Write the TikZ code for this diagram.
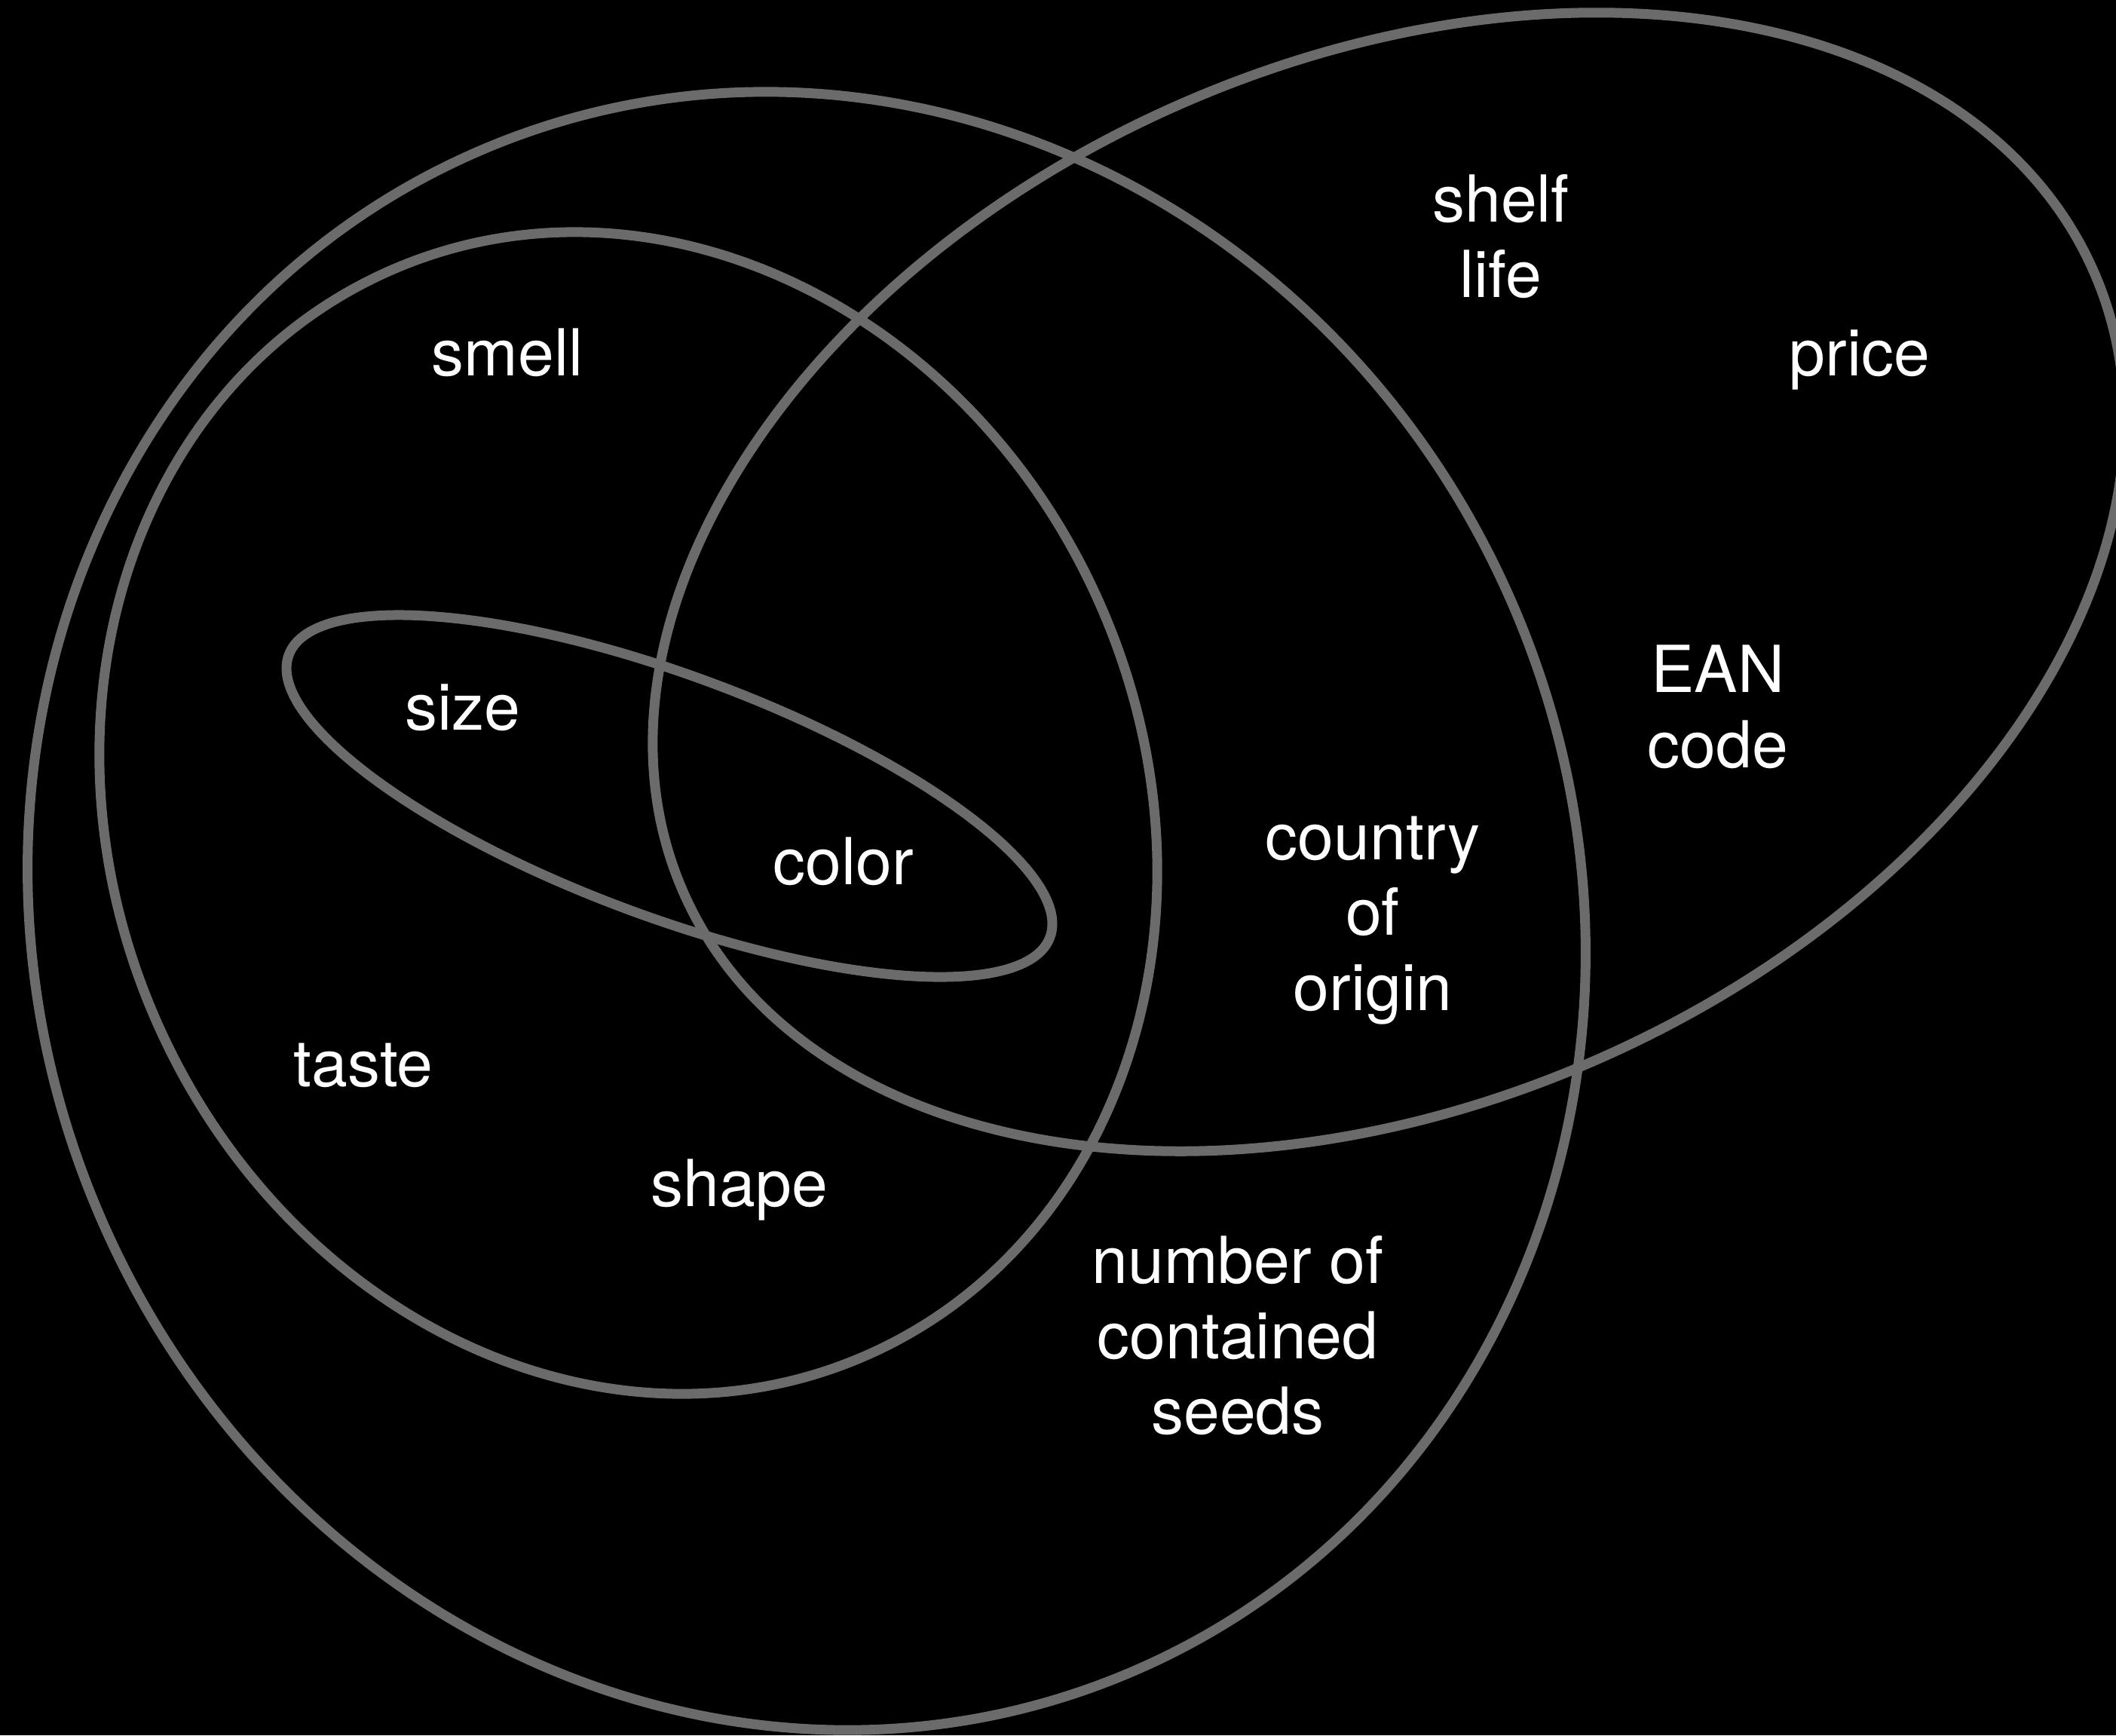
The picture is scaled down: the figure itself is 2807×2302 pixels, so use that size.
\documentclass[tikz,border=0pt]{standalone}
\usepackage{fontspec}
\setmainfont{TeX Gyre Heros}
\definecolor{ringgray}{RGB}{107,107,107}
\begin{document}
\begin{tikzpicture}[x=1pt,y=-1pt,
  ring/.style={draw=ringgray, line width=13pt},
  lbl/.style={text=white, font=\fontsize{86}{100}\selectfont, align=center, anchor=base, inner sep=0pt}]
\fill[black] (0,0) rectangle (2807,2302);
\useasboundingbox (0,0) rectangle (2807,2302);
\clip (0,0) rectangle (2807,2302);
% outer set
\draw[ring, rotate around={-67:(1070,1208.5)}] (1070,1208.5) ellipse [x radius=1097.7pt, y radius=1021.1pt];
% middle set
\draw[ring, rotate around={-66.4:(833.5,1078.5)}] (833.5,1078.5) ellipse [x radius=785.8pt, y radius=684.3pt];
% right set
\draw[ring, rotate around={23.8:(1842,772)}] (1842,772) ellipse [x radius=1022.1pt, y radius=691.4pt];
% small set
\draw[ring, rotate around={-20.35:(888,1056)}] (888,1056) ellipse [x radius=538.5pt, y radius=160.2pt];
% labels (multi-line nodes are anchored at the baseline of their last line)
\node[lbl] (shelf) at (1991,394) {shelf\\life};
\node[lbl] (price) at (2467,498) {price};
\node[lbl] (smell) at (673,498) {smell};
\node[lbl] (ean) at (2279,1018) {EAN\\code};
\node[lbl] (size) at (614,968) {size};
\node[lbl] (color) at (1119,1173) {color};
\node[lbl] (country) at (1821,1340) {country\\of\\origin};
\node[lbl] (taste) at (482,1441) {taste};
\node[lbl] (shape) at (981,1600) {shape};
\node[lbl] (seeds) at (1642,1902) {number of\\contained\\seeds};
\end{tikzpicture}
\end{document}
